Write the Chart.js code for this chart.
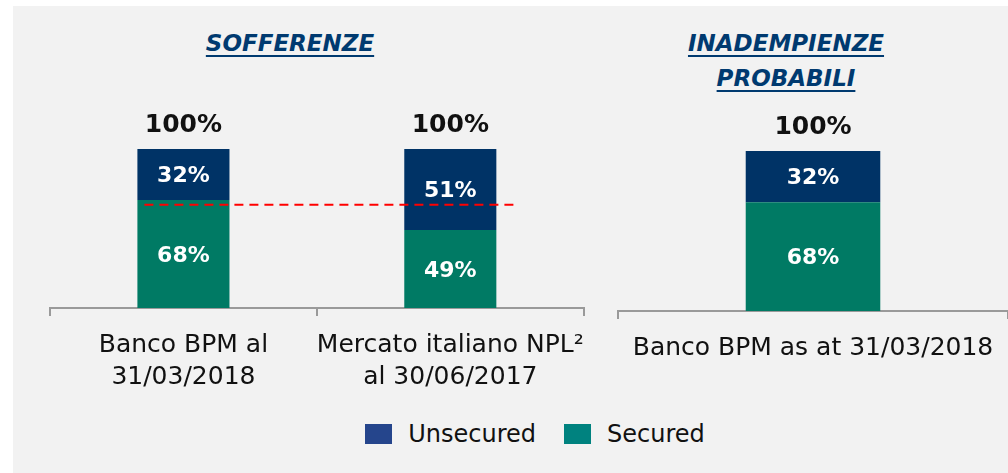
<!DOCTYPE html>
<html>
<head>
<meta charset="utf-8">
<script src="https://cdn.jsdelivr.net/npm/chart.js@4"></script>
<style>
  html, body { margin: 0; padding: 0; background: #ffffff; }
  #page { position: relative; width: 1008px; height: 473px; overflow: hidden; }
  #bg { position: absolute; left: 13px; top: 6px; right: 0; bottom: 0; background: #f2f2f2; }
  .title {
    position: absolute; color: #003a70; font-family: "DejaVu Sans", sans-serif;
    font-weight: bold; font-style: italic; font-size: 23px; text-decoration: underline;
    text-underline-offset: 4px; text-decoration-thickness: 2px; text-align: center; line-height: 35px;
  }
  .chartBox { position: absolute; top: 0; }
  #legend {
    position: absolute; left: 0; width: 1070px; top: 420px; display: flex; justify-content: center;
    font-family: "DejaVu Sans", sans-serif; font-size: 24px; line-height: 28px; color: #111;
  }
  #legend .item { display: flex; align-items: center; margin: 0 14px; }
  #legend .sw { width: 27px; height: 20px; margin-right: 16px; }
</style>
</head>
<body>
<div id="page">
  <div id="bg"></div>
  <div class="title" style="left:140px; width:300px; top:26px;">SOFFERENZE</div>
  <div class="title" style="left:636px; width:300px; top:26px;">INADEMPIENZE<br>PROBABILI</div>
  <div class="chartBox" style="left:0; width:600px; height:406px;"><canvas id="leftChart"></canvas></div>
  <div class="chartBox" style="left:600px; width:408px; height:403px;"><canvas id="rightChart"></canvas></div>
  <div id="legend"></div>
</div>
<script>
// data
const seriesNames = ['Unsecured', 'Secured'];
const leftCategories = [['Banco BPM al', '31/03/2018'], ['Mercato italiano NPL²', 'al 30/06/2017']];
const leftUnsecured = [32, 51];
const leftSecured = [68, 49];
const rightCategories = ['Banco BPM as at 31/03/2018'];
const rightUnsecured = [32];
const rightSecured = [68];
const refLineValue = 65;

const barColors = { Unsecured: '#003366', Secured: '#007a64' };
const legendColors = { Unsecured: '#25458c', Secured: '#00827f' };
const fontName = '"DejaVu Sans", sans-serif';

// draws values inside the segments and the total on top
const valueLabels = {
  id: 'valueLabels',
  afterDatasetsDraw(chart) {
    const c = chart.ctx;
    c.save();
    c.textAlign = 'center';
    c.textBaseline = 'middle';
    const tops = [];
    const totals = [];
    chart.data.datasets.forEach((ds, di) => {
      const meta = chart.getDatasetMeta(di);
      meta.data.forEach((bar, i) => {
        c.fillStyle = '#ffffff';
        c.font = 'bold 22px ' + fontName;
        c.fillText(ds.data[i] + '%', bar.x, (bar.y + bar.base) / 2 + 2);
        tops[i] = tops[i] === undefined ? bar.y : Math.min(tops[i], bar.y);
        totals[i] = (totals[i] || 0) + ds.data[i];
      });
    });
    const meta0 = chart.getDatasetMeta(0);
    meta0.data.forEach((bar, i) => {
      c.fillStyle = '#111111';
      c.font = 'bold 25px ' + fontName;
      c.fillText(totals[i] + '%', bar.x, tops[i] - 24);
    });
    c.restore();
  }
};

// red dashed comparison line on the left chart
const refLine = {
  id: 'refLine',
  afterDatasetsDraw(chart) {
    const bars = chart.getDatasetMeta(0).data;
    const y = chart.scales.y.getPixelForValue(refLineValue);
    const x1 = bars[0].x - bars[0].width / 2 + 7;
    const x2 = bars[1].x + bars[1].width / 2 + 19;
    const c = chart.ctx;
    c.save();
    c.strokeStyle = '#ff0000';
    c.lineWidth = 2;
    c.setLineDash([9, 6]);
    c.beginPath();
    c.moveTo(x1, y);
    c.lineTo(x2, y);
    c.stroke();
    c.restore();
  }
};

function makeChart(id, labels, unsecured, secured, padding, plugins) {
  return new Chart(document.getElementById(id).getContext('2d'), {
    type: 'bar',
    data: {
      labels: labels,
      datasets: [
        { label: 'Secured', data: secured, backgroundColor: barColors.Secured, borderWidth: 0,
          categoryPercentage: 1, barPercentage: 0.345 },
        { label: 'Unsecured', data: unsecured, backgroundColor: barColors.Unsecured, borderWidth: 0,
          categoryPercentage: 1, barPercentage: 0.345 }
      ]
    },
    options: {
      responsive: true,
      maintainAspectRatio: false,
      animation: false,
      layout: { padding: padding },
      plugins: { legend: { display: false }, tooltip: { enabled: false } },
      scales: {
        x: {
          stacked: true,
          offset: true,
          border: { display: true, color: '#9a9a9a', width: 2 },
          grid: { display: true, offset: true, drawOnChartArea: false, drawTicks: true,
                  tickLength: 8, color: '#9a9a9a', lineWidth: 2 },
          ticks: { color: '#111111', padding: 13, maxRotation: 0, autoSkip: false,
                   font: { family: fontName, size: 25, lineHeight: 1.28 } }
        },
        y: { stacked: true, display: false, min: 0, max: 100 }
      }
    },
    plugins: plugins
  });
}

makeChart('leftChart', leftCategories, leftUnsecured, leftSecured,
  { left: 50, right: 13, top: 149, bottom: 0 }, [valueLabels, refLine]);
makeChart('rightChart', rightCategories, rightUnsecured, rightSecured,
  { left: 18, right: 0, top: 151, bottom: 26 }, [valueLabels]);

// legend
const legend = document.getElementById('legend');
seriesNames.forEach(name => {
  const item = document.createElement('div');
  item.className = 'item';
  const sw = document.createElement('span');
  sw.className = 'sw';
  sw.style.background = legendColors[name];
  const tx = document.createElement('span');
  tx.textContent = name;
  item.appendChild(sw);
  item.appendChild(tx);
  legend.appendChild(item);
});
</script>
</body>
</html>
